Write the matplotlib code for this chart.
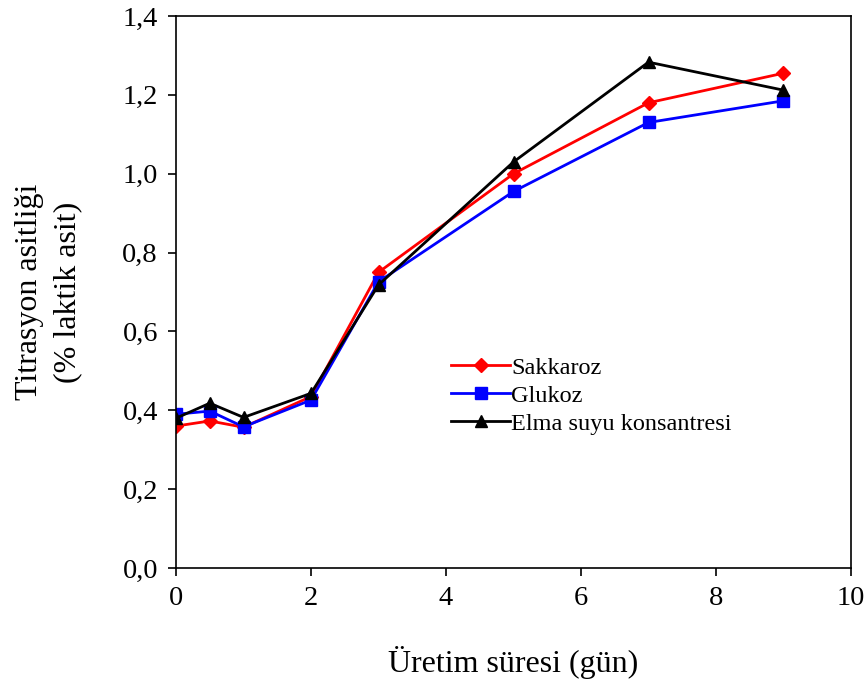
import matplotlib.pyplot as plt
from matplotlib.ticker import FuncFormatter

days = [0, 0.5, 1, 2, 3, 5, 7, 9]
sakkaroz = [0.36, 0.373, 0.357, 0.435, 0.75, 1.0, 1.18, 1.255]
glukoz = [0.39, 0.398, 0.358, 0.426, 0.726, 0.955, 1.13, 1.185]
elma = [0.38, 0.418, 0.382, 0.443, 0.718, 1.03, 1.283, 1.212]

plt.rcParams['font.family'] = ['Liberation Serif', 'DejaVu Serif']

fig = plt.figure(figsize=(8.68, 6.88), dpi=100)
ax = fig.add_axes([0.2028, 0.1744, 0.7776, 0.8023])

ax.plot(days, sakkaroz, color='#ff0000', marker='D', markersize=7, lw=2, label='Sakkaroz')
ax.plot(days, glukoz, color='#0000ff', marker='s', markersize=8, lw=2, label='Glukoz')
ax.plot(days, elma, color='black', marker='^', markersize=9, lw=2, label='Elma suyu konsantresi')

ax.set_xlim(0, 10)
ax.set_ylim(0, 1.4)
ax.set_xticks(range(0, 11, 2))
ax.set_yticks([0, 0.2, 0.4, 0.6, 0.8, 1.0, 1.2, 1.4])
ax.yaxis.set_major_formatter(FuncFormatter(lambda v, p: f'{v:.1f}'.replace('.', ',')))
ax.tick_params(labelsize=20.5, length=6, width=1.2, direction='out', pad=7)
for s in ax.spines.values():
    s.set_linewidth(1.2)

ax.set_xlabel('Üretim süresi (gün)', fontsize=23, labelpad=25)
ax.set_ylabel('Titrasyon asitliği\n(% laktik asit)', fontsize=23, labelpad=29,
              linespacing=1.4)

ax.legend(loc='upper left', bbox_to_anchor=(0.39, 0.405), frameon=False, fontsize=17.5,
          handlelength=2.4, handletextpad=0.05, labelspacing=0.25, borderpad=0)

fig.savefig('out.png', dpi=100)
